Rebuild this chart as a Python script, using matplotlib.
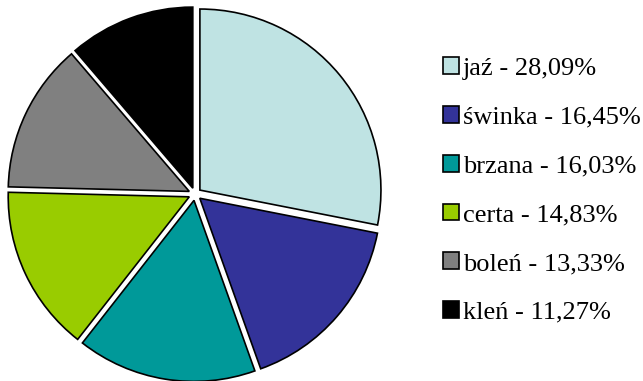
import matplotlib.pyplot as plt
import numpy as np

labels = ['jaź', 'świnka', 'brzana', 'certa', 'boleń', 'kleń']
values = [28.09, 16.45, 16.03, 14.83, 13.33, 11.27]
colors = ['#BFE3E3', '#333399', '#009999', '#99CC00', '#808080', '#000000']

fig = plt.figure(figsize=(6.43, 3.81), dpi=100)
ax = fig.add_axes([0.0, 0.0, 390 / 643, 1.0])

wedges, _ = ax.pie(values, colors=colors, startangle=90, counterclock=False,
                   explode=[0.035] * len(values),
                   wedgeprops=dict(edgecolor='black', linewidth=1.2))
ax.set_aspect('equal')
ax.set_xlim(-1.077, 1.077)
ax.set_ylim(-1.03, 1.07)

leg_labels = ['{0} - {1}%'.format(l, ('%.2f' % v).replace('.', ',')) for l, v in zip(labels, values)]
leg = fig.legend(wedges, leg_labels, loc='center left', bbox_to_anchor=(443 / 643, 0.50),
                 frameon=False, prop={'family': 'Liberation Serif', 'size': 19},
                 handlelength=0.6, handleheight=0.6, handletextpad=0.15,
                 labelspacing=0.99, borderpad=0, borderaxespad=0)

fig.savefig('out.png', dpi=100)
